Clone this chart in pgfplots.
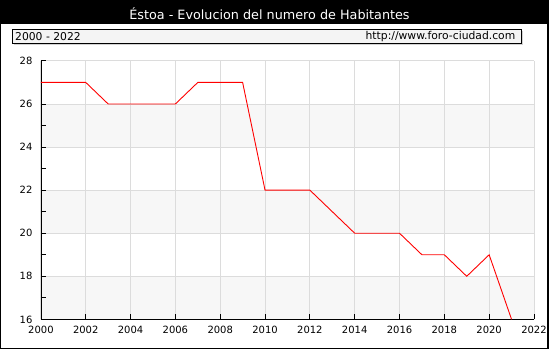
\documentclass[border=0pt]{standalone}
\usepackage{pgfplots}
\pgfplotsset{compat=1.18}
\usepackage{fontspec}
\setmainfont{DejaVu Sans}
\definecolor{band}{HTML}{F7F7F7}
\definecolor{gridc}{HTML}{DCDCDC}
\definecolor{boxfill}{HTML}{F4F4F4}
\begin{document}
\begin{tikzpicture}[x=1pt,y=1pt]
\fill[black] (0,0) rectangle (550,350);
\fill[white] (1.5,1.5) rectangle (548.5,326);
\node[white,font=\fontsize{12.8}{14}\selectfont] at (270,336.5) {Éstoa - Evolucion del numero de Habitantes};
\fill[gray!35] (14,305) rectangle (524,319);
\filldraw[fill=boxfill,draw=black,line width=0.8pt] (12.5,306.5) rectangle (522,320.5);
\node[anchor=west,font=\fontsize{10.8}{12}\selectfont,inner sep=0pt] at (15,313.5) {2000 - 2022};
\node[anchor=east,font=\fontsize{10.8}{12}\selectfont,inner sep=0pt] at (516.5,313.5) {http://www.foro-ciudad.com};
% background bands
\fill[band] (41,30) rectangle (535,73.1667);
\fill[band] (41,116.3333) rectangle (535,159.5);
\fill[band] (41,202.6667) rectangle (535,245.8333);
\begin{axis}[
  at={(41pt,30pt)}, anchor=south west,
  scale only axis, width=494pt, height=259pt,
  xmin=2000, xmax=2022, ymin=16, ymax=28,
  axis x line=bottom, axis y line=left,
  axis line style={-, black, line width=0.8pt},
  xtick={2000,2002,...,2022}, minor x tick num=1,
  ytick={16,18,...,28}, minor y tick num=1,
  tick align=inside,
  major tick length=5pt, minor tick length=5pt,
  tick style={black, line width=0.8pt},
  xmajorgrids, xminorgrids, ymajorgrids,
  grid style={gridc, line width=0.9pt},
  minor grid style={gridc, line width=0.9pt},
  /pgf/number format/assume math mode=true,
  /pgf/number format/1000 sep={},
  tick label style={font=\fontsize{10}{11}\selectfont},
  xticklabel style={yshift=-3pt},
  yticklabel style={xshift=-5pt},
  clip=false,
]
\addplot[red, line width=0.9pt] coordinates {
(2000,27) (2001,27) (2002,27) (2003,26) (2004,26) (2005,26) (2006,26)
(2007,27) (2008,27) (2009,27) (2010,22) (2011,22) (2012,22) (2013,21)
(2014,20) (2015,20) (2016,20) (2017,19) (2018,19) (2019,18) (2020,19)
(2021,16)};
\end{axis}
\end{tikzpicture}
\end{document}
